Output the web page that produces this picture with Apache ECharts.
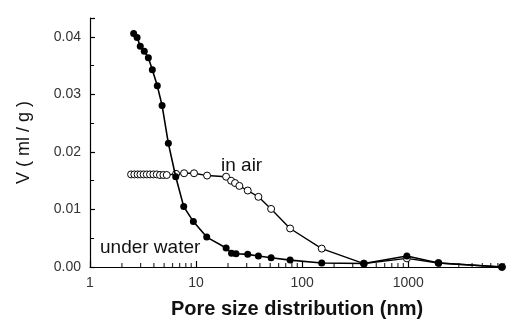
<!DOCTYPE html>
<html>
<head>
<meta charset="utf-8">
<script src="https://cdn.jsdelivr.net/npm/echarts@6/dist/echarts.min.js"></script>
<style>html,body{margin:0;padding:0;background:#fff;}#c{width:506px;height:324px;}</style>
</head>
<body>
<div id="c"></div>
<script>
// Under water (filled circles)
var waterX = [2.58, 2.78, 2.98, 3.25, 3.55, 3.87, 4.31, 4.78, 5.48, 6.43, 7.65, 9.43, 12.6, 19.2, 21.6, 23.8, 30.7, 38.7, 51, 77, 153, 382, 972, 1930, 7650];
var waterY = [0.0406, 0.0399, 0.0384, 0.0375, 0.0364, 0.0343, 0.0315, 0.0281, 0.0215, 0.0157, 0.0105, 0.0079, 0.0052, 0.0033, 0.0024, 0.0023, 0.0022, 0.0019, 0.0016, 0.0012, 0.0007, 0.0006, 0.0019, 0.0007, 0.0000];
// In air (open circles)
var airX = [2.44, 2.62, 2.81, 2.99, 3.20, 3.43, 3.68, 3.96, 4.26, 4.57, 4.92, 5.29, 6.48, 7.71, 9.57, 12.7, 19.2, 21.4, 23.3, 25.6, 30.7, 38.7, 51, 77, 153, 382, 972, 1930, 7650];
var airY = [0.0161, 0.0161, 0.0161, 0.0161, 0.0161, 0.0161, 0.0161, 0.0161, 0.0161, 0.0160, 0.0160, 0.0160, 0.0162, 0.0163, 0.0163, 0.0159, 0.0157, 0.0150, 0.0146, 0.0141, 0.0133, 0.0122, 0.0101, 0.0067, 0.0032, 0.0006, 0.0015, 0.0007, 0.0000];
// Axis tick labels / minor tick positions
var xMajorTicks = [1, 10, 100, 1000];
var xMinorTicks = [2,3,4,5,6,7,8,9,20,30,40,50,60,70,80,90,200,300,400,500,600,700,800,900,2000,3000,4000,5000,6000,7000,8000];
var yTickLabels = ['0.00', '0.01', '0.02', '0.03', '0.04'];

function zip(xs, ys) { return xs.map(function (x, i) { return [x, ys[i]]; }); }

var chart = echarts.init(document.getElementById('c'), null, {renderer: 'canvas'});
var FONT = 'Liberation Sans, Arial, sans-serif';
chart.setOption({
  animation: false,
  backgroundColor: '#fff',
  grid: {left: 90, right: 2, top: 18, bottom: 57},
  xAxis: {
    type: 'log', logBase: 10, min: 1, max: 8000,
    name: 'Pore size distribution (nm)', nameLocation: 'middle', nameGap: 32,
    nameTextStyle: {fontFamily: FONT, fontSize: 20, fontWeight: 'bold', color: '#111'},
    axisLine: {lineStyle: {color: '#000', width: 1.2}},
    axisTick: {inside: true, length: 6, lineStyle: {color: '#000', width: 1.2},
      customValues: xMajorTicks},
    axisLabel: {fontFamily: FONT, fontSize: 14, color: '#333', margin: 9,
      customValues: xMajorTicks,
      formatter: function (v) {
        var l = Math.log10(v);
        return Math.abs(l - Math.round(l)) < 1e-6 ? String(Math.round(v)) : '';
      }},
    splitLine: {show: false}
  },
  yAxis: {
    type: 'value', min: 0, max: 0.0433, interval: 0.01,
    name: 'V ( ml / g )', nameLocation: 'middle', nameGap: 57, nameRotate: 90,
    nameTextStyle: {fontFamily: FONT, fontSize: 18, color: '#111'},
    axisLine: {show: true, lineStyle: {color: '#000', width: 1.2}},
    axisTick: {show: true, inside: true, length: 5, lineStyle: {color: '#000', width: 1.2}},
    minorTick: {show: true, splitNumber: 2, length: 4, lineStyle: {color: '#000', width: 1}},
    axisLabel: {fontFamily: FONT, fontSize: 14, color: '#333', margin: 9,
      formatter: function (v) {
        var k = Math.round(v / 0.01);
        return Math.abs(v - k * 0.01) < 1e-9 ? yTickLabels[k] : '';
      }},
    splitLine: {show: false}
  },
  graphic: [
    {type: 'text', left: 221, top: 156, style: {text: 'in air', font: '19px ' + FONT, fill: '#111'}},
    {type: 'text', left: 100, top: 238, style: {text: 'under water', font: '19px ' + FONT, fill: '#111'}}
  ],
  series: [
    {
      type: 'scatter', silent: true, z: 1,
      data: xMinorTicks.map(function (x) { return [x, 0]; }),
      symbol: 'rect', symbolSize: [1.2, 4], symbolOffset: [0, -2],
      itemStyle: {color: '#000'}
    },
    {
      name: 'in air', type: 'line', data: zip(airX, airY), z: 3,
      symbol: 'circle', symbolSize: 7, showAllSymbol: true,
      lineStyle: {color: '#000', width: 1.4},
      itemStyle: {color: '#fff', borderColor: '#000', borderWidth: 1}
    },
    {
      name: 'under water', type: 'line', data: zip(waterX, waterY), z: 4,
      symbol: 'circle', symbolSize: 7, showAllSymbol: true,
      lineStyle: {color: '#000', width: 1.6},
      itemStyle: {color: '#000', borderColor: '#000', borderWidth: 0}
    }
  ]
});
</script>
</body>
</html>
